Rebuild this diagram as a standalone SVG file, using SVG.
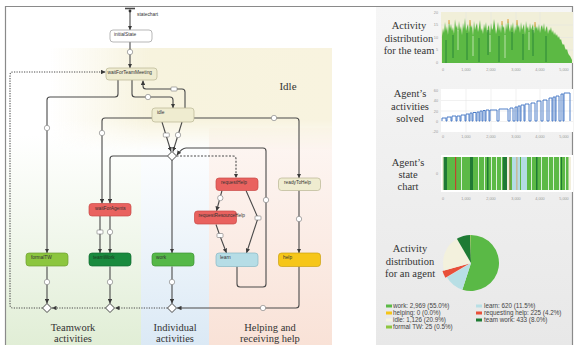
<svg xmlns="http://www.w3.org/2000/svg" width="576" height="345" viewBox="0 0 576 345">
<defs>
<style>
.node rect{stroke-width:0.7}
.nl{font-family:"Liberation Sans",Arial,sans-serif;font-size:4.8px;fill:#333}
.con path,.con line{fill:none;stroke:#4a4a4a;stroke-width:1.1}
.dot{stroke-dasharray:1.2 1.3}
.dash{stroke-dasharray:2 1.5}
.ic circle{fill:#fff;stroke:#777;stroke-width:0.6}
.ic rect{fill:#fff;stroke:#777;stroke-width:0.6}
.ser{font-family:"Liberation Serif","Times New Roman",serif;fill:#333;text-anchor:middle}
.ax{font-family:"Liberation Sans",Arial,sans-serif;font-size:3.8px;fill:#9a9a9a}
.lg{font-family:"Liberation Sans",Arial,sans-serif;font-size:6.3px;fill:#444}
.grid line{stroke:#e2e2e2;stroke-width:0.5}
</style>
<marker id="arr" viewBox="0 0 6 6" refX="6" refY="3" markerWidth="4.5" markerHeight="4.5" markerUnits="userSpaceOnUse" orient="auto">
<path d="M0,0 L6,3 L0,6 z" fill="#3a3a3a"/>
</marker>
<linearGradient id="gIdle" x1="0" y1="0" x2="1" y2="0">
<stop offset="0" stop-color="#f7f3de" stop-opacity="0"/>
<stop offset="0.35" stop-color="#f7f3de" stop-opacity="1"/>
<stop offset="1" stop-color="#f8f3df" stop-opacity="1"/>
</linearGradient>
<linearGradient id="gFade" x1="0" y1="0" x2="0" y2="1">
<stop offset="0" stop-color="#fff"/>
<stop offset="0.7" stop-color="#fff"/>
<stop offset="1" stop-color="#000"/>
</linearGradient>
<mask id="mIdle"><rect x="50" y="48" width="282" height="102" fill="url(#gFade)"/></mask>
<linearGradient id="gGreen" x1="0" y1="0" x2="0" y2="1">
<stop offset="0" stop-color="#e3efd9" stop-opacity="0"/>
<stop offset="1" stop-color="#e1eed6"/>
</linearGradient>
<linearGradient id="gBlue" x1="0" y1="0" x2="0" y2="1">
<stop offset="0" stop-color="#deebf6" stop-opacity="0"/>
<stop offset="1" stop-color="#dbe9f5"/>
</linearGradient>
<linearGradient id="gPink" x1="0" y1="0" x2="0" y2="1">
<stop offset="0" stop-color="#f9e3d9" stop-opacity="0.3"/>
<stop offset="1" stop-color="#f9e2d7"/>
</linearGradient>
<linearGradient id="gPanel" x1="0" y1="0" x2="0" y2="1">
<stop offset="0" stop-color="#f6f6f6"/>
<stop offset="1" stop-color="#e8e8e8"/>
</linearGradient>
</defs>

<rect x="0" y="0" width="576" height="345" fill="#fff"/>

<!-- background regions -->
<g id="regions">
<rect x="6" y="135" width="135" height="210" fill="url(#gGreen)"/>
<rect x="141" y="135" width="68" height="210" fill="url(#gBlue)"/>
<rect x="209" y="128" width="123" height="217" fill="url(#gPink)"/>
<rect x="50" y="48" width="282" height="102" fill="url(#gIdle)" mask="url(#mIdle)"/>
<rect x="376" y="7" width="197" height="338" fill="url(#gPanel)"/>
</g>
<path d="M5.5,345 V6.5 H572.5 V345" fill="none" stroke="#8a8a8a" stroke-width="1.2"/>

<text class="ser" x="288" y="90" font-size="11">Idle</text>

<!-- connectors -->
<g id="connectors" class="con">
<path d="M125,8.5 H135" style="stroke-width:1.6"/>
<path d="M130,10 V30" marker-end="url(#arr)"/>
<path d="M130,42 V68" marker-end="url(#arr)"/>
<path d="M118,80 V94 Q118,97 115,97 H50 Q47,97 47,100 V253" marker-end="url(#arr)"/>
<path d="M132,80 V94 Q132,97 135,97 H170 Q173,97 173,100 V108" marker-end="url(#arr)"/>
<path d="M185,108 V92 Q185,89 182,89 H146 Q143,89 143,86 V80.5" marker-end="url(#arr)"/>
<path d="M152,118 H105 Q102,118 102,121 V203.5" marker-end="url(#arr)"/>
<path d="M194,118 H296 Q299,118 299,121 V178" marker-end="url(#arr)"/>
<path d="M162,122 L171,151.5" marker-end="url(#arr)"/>
<path d="M182,122 L173,151.5" marker-end="url(#arr)"/>
<path d="M167.5,156 H113 Q110,156 110,159 V203.5" marker-end="url(#arr)"/>
<path d="M172,160 V253" marker-end="url(#arr)"/>
<path class="dash" d="M176.5,156 H233 Q236,156 236,159 V178" marker-end="url(#arr)"/>
<path d="M237,266.5 V284 Q237,287 240,287 H263 Q266,287 266,284 V151 Q266,148 263,148 H186 Q182,148 176.8,155.2" marker-end="url(#arr)"/>
<path d="M222,190.5 L216.5,211" marker-end="url(#arr)"/>
<path d="M246,190.5 L258,218 L246.5,253" marker-end="url(#arr)"/>
<path d="M216,224.5 L220,236 L226.5,253" marker-end="url(#arr)"/>
<path d="M299,190.5 V253" marker-end="url(#arr)"/>
<path d="M100,216 V253" marker-end="url(#arr)"/>
<path d="M110,216 V253" marker-end="url(#arr)"/>
<path d="M47,266.5 V303.5" marker-end="url(#arr)"/>
<path d="M110,266.5 V303.5" marker-end="url(#arr)"/>
<path d="M172,266.5 V303.5" marker-end="url(#arr)"/>
<path d="M299,266.5 V305 Q299,308 296,308 H177" marker-end="url(#arr)"/>
<path class="dot" d="M167.5,308 H115" marker-end="url(#arr)"/>
<path class="dot" d="M105.5,308 H52" marker-end="url(#arr)"/>
<path class="dot" d="M42.5,308 H13 Q10,308 10,305 V75 Q10,72 13,72 H105.5" marker-end="url(#arr)"/>
</g>

<!-- transition icons -->
<g id="icons" class="ic">
<circle cx="130" cy="52" r="2.7"/>
<circle cx="148" cy="97" r="2.7"/>
<circle cx="47" cy="128" r="2.7"/>
<circle cx="102" cy="133" r="2.7"/>
<circle cx="178" cy="135" r="2.7"/>
<circle cx="274" cy="118" r="2.7"/>
<circle cx="220.3" cy="198" r="2.7"/>
<circle cx="266" cy="200" r="2.7"/>
<circle cx="299" cy="219" r="2.7"/>
<circle cx="110" cy="232" r="2.7"/>
<circle cx="47" cy="282" r="2.7"/>
<circle cx="110" cy="282" r="2.7"/>
<circle cx="172" cy="282" r="2.7"/>
<circle cx="263" cy="308" r="2.7"/>
<rect x="171" y="87" width="6" height="4" rx="0.8"/>
<rect x="163.3" y="133" width="6" height="4" rx="0.8"/>
<rect x="97" y="230" width="6" height="4" rx="0.8"/>
<rect x="255" y="216" width="6" height="4" rx="0.8"/>
<rect x="217" y="233.5" width="6" height="4" rx="0.8"/>
</g>

<!-- diamonds -->
<g id="branches" fill="#fff" stroke="#333" stroke-width="0.9">
<path id="b0" d="M172,151.5 L176.5,156 L172,160.5 L167.5,156 Z"/>
<path id="b1" d="M47,303.5 L51.5,308 L47,312.5 L42.5,308 Z"/>
<path id="b2" d="M110,303.5 L114.5,308 L110,312.5 L105.5,308 Z"/>
<path id="b3" d="M172,303.5 L176.5,308 L172,312.5 L167.5,308 Z"/>
</g>

<!-- nodes -->
<g id="start"><circle cx="130" cy="11" r="1.4" fill="#333"/><text class="nl" x="137" y="15.5">statechart</text></g>
<g id="initialState" class="node"><rect x="110" y="30" width="42" height="12" rx="3" fill="#fff" stroke="#999"/><text class="nl" x="114" y="35.8">initialState</text></g>
<g id="waitForTeamMeeting" class="node"><rect x="106" y="68" width="51" height="12" rx="3" fill="#efecd0" stroke="#b9b694"/><text class="nl" x="107.5" y="73.8">waitForTeamMeeting</text></g>
<g id="idle" class="node"><rect x="152" y="108" width="42" height="14" rx="3" fill="#efecd0" stroke="#b9b694"/><text class="nl" x="157" y="114">idle</text></g>
<g id="readyToHelp" class="node"><rect x="278.5" y="178" width="42" height="12.5" rx="3" fill="#efecd0" stroke="#b9b694"/><text class="nl" x="284" y="184">readyToHelp</text></g>
<g id="waitForAgents" class="node"><rect x="89" y="203.5" width="42" height="12.5" rx="3" fill="#e9625f" stroke="#c84a47"/><text class="nl" x="95" y="209.5">waitForAgents</text></g>
<g id="requestHelp" class="node"><rect x="216" y="178" width="42" height="12.5" rx="3" fill="#e9625f" stroke="#c84a47"/><text class="nl" x="221" y="184">requestHelp</text></g>
<g id="requestResourceHelp" class="node"><rect x="194.5" y="211" width="42" height="13" rx="3" fill="#e9625f" stroke="#c84a47"/><text class="nl" x="198.5" y="217">requestResourceHelp</text></g>
<g id="formalTW" class="node"><rect x="26" y="253" width="42" height="13" rx="3" fill="#8cc63f" stroke="#6f9f30"/><text class="nl" x="31" y="259">formalTW</text></g>
<g id="teamWork" class="node"><rect x="89" y="253" width="42" height="13" rx="3" fill="#198a3e" stroke="#136b30"/><text class="nl" x="93" y="259" style="fill:#1d3a22">teamWork</text></g>
<g id="work" class="node"><rect x="152" y="253" width="42" height="13" rx="3" fill="#55b848" stroke="#3e9433"/><text class="nl" x="156" y="259">work</text></g>
<g id="learn" class="node"><rect x="216" y="253" width="42" height="13.5" rx="3" fill="#b6dde6" stroke="#88b8c4"/><text class="nl" x="220" y="259">learn</text></g>
<g id="help" class="node"><rect x="278.5" y="253" width="42" height="13.5" rx="3" fill="#f6c619" stroke="#caa012"/><text class="nl" x="283" y="259">help</text></g>

<!-- region labels -->
<g id="labels">
<text class="ser" font-size="10.5" x="73" y="331">Teamwork</text>
<text class="ser" font-size="10.5" x="73" y="342">activities</text>
<text class="ser" font-size="10.5" x="175" y="331">Individual</text>
<text class="ser" font-size="10.5" x="175" y="342">activities</text>
<text class="ser" font-size="10.5" x="270" y="331">Helping and</text>
<text class="ser" font-size="10.5" x="270" y="342">receiving help</text>
</g>

<!-- right panel titles -->
<g id="titles">
<text class="ser" font-size="10.5" x="409" y="29">Activity</text>
<text class="ser" font-size="10.5" x="409" y="41.5">distribution</text>
<text class="ser" font-size="10.5" x="409" y="54">for the team</text>
<text class="ser" font-size="10.5" x="410" y="97">Agent’s</text>
<text class="ser" font-size="10.5" x="410" y="109.5">activities</text>
<text class="ser" font-size="10.5" x="410" y="122">solved</text>
<text class="ser" font-size="10.5" x="408" y="166">Agent’s</text>
<text class="ser" font-size="10.5" x="408" y="178">state</text>
<text class="ser" font-size="10.5" x="408" y="190">chart</text>
<text class="ser" font-size="10.5" x="410" y="252">Activity</text>
<text class="ser" font-size="10.5" x="410" y="264.5">distribution</text>
<text class="ser" font-size="10.5" x="410" y="277">for an agent</text>
</g>

<!-- chart 1: team activity -->
<g id="chartTeam">
<rect x="441" y="12" width="132" height="51" fill="#f1efd9"/>
<g class="grid"><line x1="441" y1="25" x2="573" y2="25"/><line x1="441" y1="37.5" x2="573" y2="37.5"/><line x1="441" y1="50" x2="573" y2="50"/><line x1="466" y1="12" x2="466" y2="63"/><line x1="491" y1="12" x2="491" y2="63"/><line x1="516" y1="12" x2="516" y2="63"/><line x1="540" y1="12" x2="540" y2="63"/></g>
<path fill="#5cb944" d="M442,63 V36 L443,28 L444,33 L445,22 L446,31 L447,26 L448,35 L449,20 L450,29 L451,24 L452,31 L453,27 L454,34 L455,19 L456,28 L457,25 L458,32 L459,21 L460,30 L461,26 L462,35 L463,23 L464,29 L465,18 L466,31 L467,27 L468,24 L469,33 L470,20 L471,28 L472,25 L473,36 L474,21 L475,30 L476,26 L477,23 L478,32 L479,27 L480,20 L481,31 L482,28 L483,34 L484,24 L485,29 L486,22 L487,33 L488,27 L489,25 L490,35 L491,23 L492,30 L493,28 L494,19 L495,26 L496,34 L497,29 L498,22 L499,31 L500,25 L501,33 L502,21 L503,28 L504,26 L505,35 L506,23 L507,30 L508,19 L509,27 L510,32 L511,24 L512,29 L513,22 L514,34 L515,26 L516,31 L517,20 L518,28 L519,25 L520,33 L521,22 L522,30 L523,27 L524,24 L525,35 L526,21 L527,29 L528,26 L529,32 L530,23 L531,30 L532,27 L533,24 L534,34 L535,22 L536,29 L537,26 L538,31 L539,24 L540,33 L541,27 L542,25 L543,30 L544,23 L545,32 L546,28 L547,26 L548,34 L549,29 L550,31 L551,27 L552,33 L553,30 L554,35 L555,32 L556,36 L557,34 L558,38 L559,36 L560,40 L561,39 L562,43 L563,45 L564,44 L565,48 L566,50 L567,49 L568,53 L569,55 L570,56 L571,58 L572,60 V63 Z"/>
<g stroke="#1f7a35" stroke-width="0.8"><line x1="446" y1="40" x2="446" y2="63"/><line x1="453" y1="35" x2="453" y2="58"/><line x1="467" y1="33" x2="467" y2="60"/><line x1="479" y1="38" x2="479" y2="62"/><line x1="488" y1="30" x2="488" y2="55"/><line x1="499" y1="36" x2="499" y2="62"/><line x1="512" y1="32" x2="512" y2="50"/><line x1="523" y1="34" x2="523" y2="60"/><line x1="533" y1="30" x2="533" y2="56"/><line x1="546" y1="36" x2="546" y2="62"/></g>
<g stroke="#fbfbf0" stroke-width="0.6"><line x1="458" y1="30" x2="458" y2="50"/><line x1="473" y1="36" x2="473" y2="56"/><line x1="490" y1="35" x2="490" y2="52"/><line x1="505" y1="35" x2="505" y2="58"/><line x1="529" y1="32" x2="529" y2="50"/></g>
<g stroke="#e8a040" stroke-width="1"><line x1="449" y1="20" x2="449" y2="24"/><line x1="470" y1="20" x2="470" y2="26"/><line x1="502" y1="21" x2="502" y2="25"/><line x1="508" y1="19" x2="508" y2="23"/><line x1="517" y1="20" x2="517" y2="25"/><line x1="535" y1="22" x2="535" y2="27"/></g>
<g class="ax" text-anchor="end"><text x="438" y="13.5">20</text><text x="438" y="26">15</text><text x="438" y="38.5">10</text><text x="438" y="51">5</text><text x="438" y="64">0</text></g>
<g class="ax" text-anchor="middle"><text x="443" y="71">0</text><text x="466" y="71">1,000</text><text x="491" y="71">2,000</text><text x="516" y="71">3,000</text><text x="540" y="71">4,000</text><text x="564" y="71">5,000</text></g>
</g>

<!-- chart 2: activities solved -->
<g id="chartSolved">
<rect x="441" y="89" width="132" height="43" fill="#fff"/>
<g class="grid"><line x1="441" y1="100.5" x2="573" y2="100.5"/><line x1="441" y1="111" x2="573" y2="111"/><line x1="441" y1="121.5" x2="573" y2="121.5"/><line x1="466" y1="89" x2="466" y2="132"/><line x1="491" y1="89" x2="491" y2="132"/><line x1="516" y1="89" x2="516" y2="132"/><line x1="540" y1="89" x2="540" y2="132"/></g>
<path fill="none" stroke="#3b6fc2" stroke-width="0.9" d="M442,121 V118 H446 V121 H447 V117 H451 V121 H452 V116 H456 V121 H457 V116 H460 V121 H461 V115 H465 V121 H466 V114 H469 V121 H470 V113 H472 V121 H473 V112.5 H476 V121 H477 V112 H479 V121 H480 V111 H482 V121 H483 V110.5 H485 V121 H486 V110 H489 V121 H490 V110 H497 V121 H499 V109 H508 V121 H510 V108 H513 V121 H515 V107 H517 V121 H518 V106 H520 V121 H521 V105 H524 V121 H525 V104 H529 V121 H531 V103 H535 V121 H537 V101 H541 V121 H543 V100 H547 V121 H549 V98 H552 V121 H553 V97 H555 V121 H556 V96 H559 V121 H561 V94 H563 V121 H564 V93 H570 V121"/>
<g class="ax" text-anchor="end"><text x="438" y="91.5">60</text><text x="438" y="102">40</text><text x="438" y="112.5">20</text><text x="438" y="123">0</text><text x="438" y="133">-20</text></g>
<g class="ax" text-anchor="middle"><text x="443" y="138">0</text><text x="466" y="138">1,000</text><text x="491" y="138">2,000</text><text x="516" y="138">3,000</text><text x="540" y="138">4,000</text><text x="564" y="138">5,000</text></g>
</g>

<!-- chart 3: state chart -->
<g id="chartState">
<rect x="441" y="155" width="132" height="37" fill="#fff"/>
<rect x="442" y="157" width="129" height="33" fill="#5cb946"/>
<g fill="#fff"><rect x="461" y="157" width="0.8" height="33"/><rect x="478" y="157" width="0.8" height="33"/><rect x="484" y="157" width="0.8" height="33"/><rect x="491" y="157" width="0.8" height="33"/><rect x="496" y="157" width="0.8" height="33"/><rect x="501" y="157" width="0.8" height="33"/><rect x="531" y="157" width="0.8" height="33"/><rect x="541" y="157" width="0.8" height="33"/><rect x="548" y="157" width="0.8" height="33"/><rect x="553" y="157" width="0.8" height="33"/><rect x="559" y="157" width="0.8" height="33"/><rect x="565" y="157" width="0.8" height="33"/></g>
<g fill="#1f7a35"><rect x="443.5" y="157" width="3.5" height="33"/><rect x="470" y="157" width="3" height="33"/><rect x="487" y="157" width="1.5" height="33"/><rect x="503" y="157" width="4" height="33"/><rect x="536" y="157" width="1.5" height="33"/><rect x="561" y="157" width="1" height="33"/></g>
<rect x="455" y="157" width="1.2" height="33" fill="#c1442f"/>
<g fill="#f2eedb"><rect x="442" y="157" width="1.5" height="33"/><rect x="507" y="157" width="2.5" height="33"/><rect x="568.5" y="157" width="2.5" height="33"/></g>
<rect x="509.5" y="157" width="0.8" height="33" fill="#9b6b3a"/>
<rect x="512" y="157" width="15" height="33" fill="#b4dbe4"/>
<rect x="516.5" y="157" width="0.8" height="33" fill="#d99a55"/>
<rect x="520" y="157" width="1" height="33" fill="#5cb946"/>
<text class="ax" x="438" y="174.5" text-anchor="end">0</text>
<g class="ax" text-anchor="middle"><text x="443" y="200">0</text><text x="466" y="200">1,000</text><text x="491" y="200">2,000</text><text x="516" y="200">3,000</text><text x="540" y="200">4,000</text><text x="564" y="200">5,000</text></g>
</g>

<!-- pie -->
<g id="pie" stroke="none">
<path d="M471,263 L471,235 A28,28 0 1 1 462.35,289.63 Z" fill="#5ab946"/>
<path d="M471,263 L462.35,289.63 A28,28 0 0 1 446.9,277.25 Z" fill="#b8dfe5"/>
<path d="M469.5,263.5 L445.4,277.7 A28,28 0 0 1 442.5,270.9 Z" fill="#e8503a"/>
<path d="M471,263 L444.02,270.48 A28,28 0 0 1 456.87,238.82 Z" fill="#f3f1dd"/>
<path d="M471,263 L456.87,238.82 A28,28 0 0 1 470.27,235.01 Z" fill="#1e7b34"/>
<path d="M471,263 L470.27,235.01 A28,28 0 0 1 471,235 Z" fill="#8dc63f"/>
</g>

<!-- legend -->
<g id="legend">
<rect x="386" y="304.5" width="6" height="3" fill="#5ab946"/><text class="lg" x="393" y="308.2">work: 2,969 (55.0%)</text>
<rect x="476" y="304.5" width="6" height="3" fill="#b8dfe5"/><text class="lg" x="484" y="308.2">learn: 620 (11.5%)</text>
<rect x="386" y="311.5" width="6" height="3" fill="#f5c518"/><text class="lg" x="393" y="315.2">helping: 0 (0.0%)</text>
<rect x="476" y="311.5" width="6" height="3" fill="#e8503a"/><text class="lg" x="484" y="315.2">requesting help: 225 (4.2%)</text>
<rect x="386" y="318.5" width="6" height="3" fill="#f6f4e2"/><text class="lg" x="393" y="322.2">idle: 1,126 (20.9%)</text>
<rect x="476" y="318.5" width="6" height="3" fill="#1e7b34"/><text class="lg" x="484" y="322.2">team work: 433 (8.0%)</text>
<rect x="386" y="325.5" width="6" height="3" fill="#8dc63f"/><text class="lg" x="393" y="329.2">formal TW: 25 (0.5%)</text>
</g>
</svg>
